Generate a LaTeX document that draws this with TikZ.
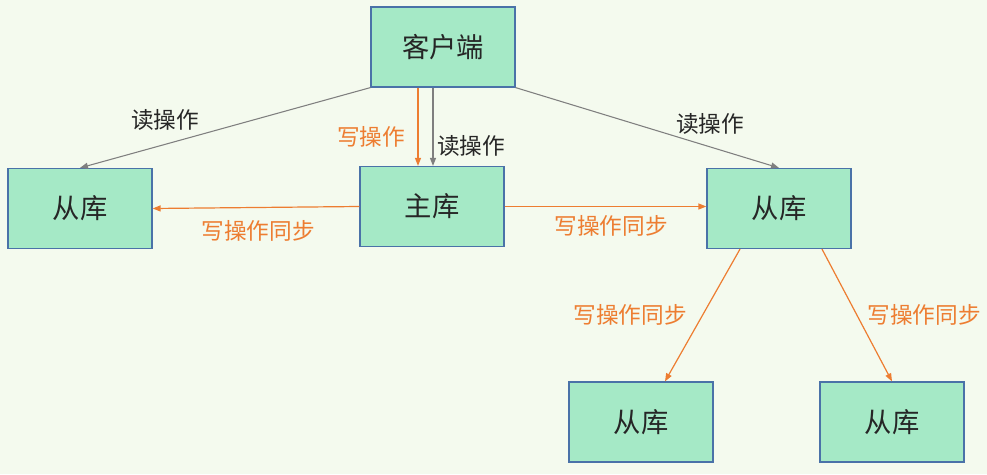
\documentclass[tikz,border=0pt]{standalone}
\usepackage{fontspec}
\setmainfont{Noto Sans CJK SC}
\usetikzlibrary{arrows.meta,calc}
\definecolor{bgc}{HTML}{F4FAEE}
\definecolor{boxfill}{HTML}{A5E9C6}
\definecolor{boxline}{HTML}{4A72A8}
\definecolor{wsync}{HTML}{ED7D31}
\definecolor{rgray}{HTML}{7F7F7F}
\definecolor{txt}{HTML}{262626}

\begin{document}
\begin{tikzpicture}[
  x=0.75pt, y=-0.75pt,
  db/.style={draw=boxline, line width=0.9pt, fill=boxfill, minimum width=108pt,
    minimum height=60pt, inner sep=0pt, font=\fontsize{20.5}{24}\selectfont, text=txt},
  wread/.style={rgray, line width=0.8pt, -{Triangle[length=6pt,width=4.5pt]}},
  wwrite/.style={wsync, line width=0.9pt, -{Triangle[length=6pt,width=4.5pt]}},
  rlbl/.style={font=\fontsize{17}{20}\selectfont, text=txt, inner sep=1pt},
  wlbl/.style={font=\fontsize{17}{20}\selectfont, text=wsync, inner sep=1pt},
]
\fill[bgc] (0,0) rectangle (987,474);
\useasboundingbox (0,0) rectangle (987,474);

% ---------- nodes ----------
\node[db] (client) at (443,47) {客户端};
\node[db] (master) at (432,206.5) {主库};
\node[db] (slaveL) at (80,208.5) {从库};
\node[db] (slaveR) at (779,208.5) {从库};
\node[db] (slaveBL) at (641,422) {从库};
\node[db] (slaveBR) at (892,422) {从库};

% ---------- read paths ----------
\draw[wread] (client.south west) -- (slaveL.north);
\draw[wread] (client.south east) -- (slaveR.north);
\draw[wread] ($(client.south)+(-10,0)$) -- ($(master.north)+(1,0)$);
\draw[wwrite] ($(client.south)+(-25,0)$) -- ($(master.north)+(-14,0)$);

% ---------- replication ----------
\draw[wwrite] (master.west) -- (slaveL.east);
\draw[wwrite] (master.east) -- (master.east -| slaveR.west);
\draw[wwrite] ($(slaveR.south)+(-39,0)$) -- ($(slaveBL.north)+(24,0)$);
\draw[wwrite] ($(slaveR.south)+(43,0)$) -- (slaveBR.north);

% ---------- labels ----------
\node[rlbl] (rdL) at (165,120) {读操作};
\node[wlbl] (wrM) at (371,137) {写操作};
\node[rlbl] (rdM) at (471,146) {读操作};
\node[rlbl] (rdR) at (710,124) {读操作};
\node[wlbl] (syL) at (258,231) {写操作同步};
\node[wlbl] (syR) at (611,226) {写操作同步};
\node[wlbl] (syBL) at (630,315) {写操作同步};
\node[wlbl] (syBR) at (924,315) {写操作同步};

\end{tikzpicture}
\end{document}
